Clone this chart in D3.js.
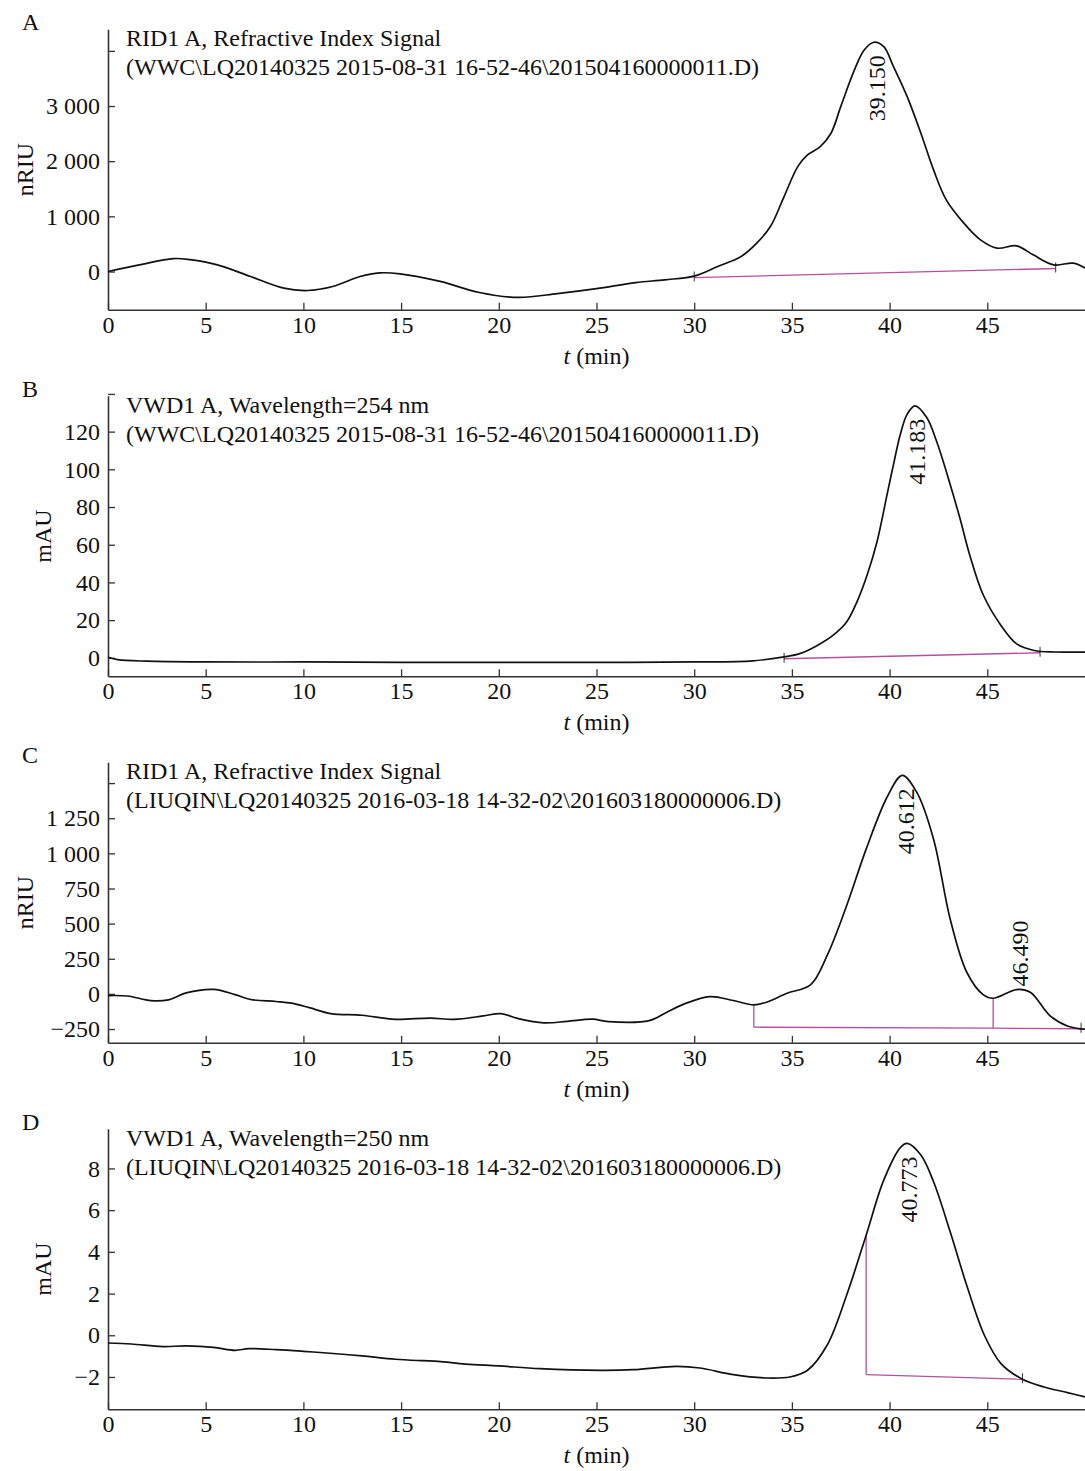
<!DOCTYPE html>
<html>
<head>
<meta charset="utf-8">
<script src="https://cdn.jsdelivr.net/npm/d3@7"></script>
<style>
  body { margin: 0; background: #fff; }
  svg { display: block; font-family: "Liberation Serif", "Times New Roman", serif; }
</style>
</head>
<body>
<div id="chart"></div>
<script>
const width = 1085;
const height = 1471;

// panel A: RID, 2015 run
const aTime = [0, 1.6, 3.35, 4.2, 5.6, 7.3, 9.0, 10.2, 11.5, 12.9, 13.9, 14.95, 17, 19, 21, 23, 25, 27, 28.5, 30.05, 31.2, 32.4, 33.2, 33.9, 34.6, 35.3, 35.8, 36.45, 37.0, 37.5, 38.2, 38.7, 39.2, 39.7, 40.2, 40.9, 41.6, 42.25, 42.9, 43.8, 44.65, 45.5, 46.5, 47.35, 48.4, 49.4, 50];
const aSignal = [0, 121, 235, 215, 121, -91, -302, -344, -272, -91, -25, -42, -180, -380, -470, -400, -310, -200, -150, -78, 91, 272, 514, 815, 1359, 1902, 2114, 2264, 2507, 2989, 3654, 4016, 4156, 4076, 3714, 3170, 2507, 1842, 1299, 877, 574, 424, 466, 302, 121, 152, 62];
const aBaseTime = [30, 48.5];
const aBaseValue = [-110, 55];
const aPeaks = ['39.150'];

// panel B: VWD 254 nm, 2015 run
const bTime = [0, 0.5, 2, 5, 10, 15, 20, 25, 30, 33, 34.6, 35.4, 36.3, 37.1, 37.8, 38.33, 38.85, 39.36, 39.87, 40.2, 40.55, 40.9, 41.3, 41.9, 42.4, 43.1, 43.6, 44.1, 44.8, 45.7, 46.5, 47.4, 48.5, 50];
const bSignal = [0.3, -1, -1.8, -2.2, -2.2, -2.4, -2.4, -2.4, -2.2, -1.6, 0.5, 2.2, 6.6, 11.9, 19, 29.7, 43.9, 61.7, 86.6, 102.6, 118.6, 129.3, 133.7, 127.5, 115, 92, 74, 54.6, 33.2, 17.2, 7.4, 3.9, 3.1, 3];
const bBaseTime = [34.6, 47.7];
const bBaseValue = [-0.5, 2.7];
const bPeaks = ['41.183'];

// panel C: RID, 2016 run
const cTime = [0, 1, 2.2, 3.1, 4.0, 5.4, 6.5, 7.3, 8.6, 9.4, 10.3, 11.4, 13, 14.7, 16.5, 17.7, 19.2, 20.1, 21, 22.3, 23.5, 24.8, 25.6, 27.7, 28.6, 29.5, 30.8, 32.0, 33.05, 33.7, 34.75, 35.95, 36.8, 37.8, 38.8, 39.9, 40.65, 41.4, 42.25, 43.1, 43.95, 44.8, 45.3, 46.5, 47.2, 48.2, 49.1, 49.8, 50];
const cSignal = [-12, -15, -48, -42, 7, 32, -5, -40, -54, -66, -98, -140, -152, -181, -172, -181, -157, -140, -176, -206, -195, -180, -197, -190, -130, -71, -19, -47, -78, -59, 5, 64, 272, 627, 1030, 1408, 1555, 1432, 1101, 533, 154, -7, -31, 31, 12, -154, -229, -249, -250];
const cBaseTime = [33.05, 45.3, 49.8];
const cBaseValue = [-237, -244, -248];
const cPeaks = ['40.612', '46.490'];

// panel D: VWD 250 nm, 2016 run
const dTime = [0, 1.2, 2.8, 4.0, 5.4, 6.5, 7.2, 8.6, 10, 11.2, 13, 14.7, 16.1, 16.9, 18.3, 20, 22.1, 25.2, 26.9, 29.1, 30.3, 32.0, 33.7, 34.9, 35.8, 36.8, 37.8, 38.8, 39.7, 40.55, 40.9, 41.6, 42.25, 43.1, 44.0, 44.85, 45.7, 46.8, 47.9, 49.1, 50];
const dSignal = [-0.37, -0.42, -0.54, -0.51, -0.58, -0.72, -0.64, -0.69, -0.77, -0.85, -0.99, -1.15, -1.22, -1.25, -1.38, -1.47, -1.6, -1.68, -1.65, -1.49, -1.57, -1.89, -2.05, -2.0, -1.68, -0.48, 1.92, 4.8, 7.44, 9.0, 9.2, 8.64, 7.36, 4.96, 2.24, 0, -1.36, -2.11, -2.48, -2.75, -2.96];
const dBaseTime = [38.8, 46.8];
const dBaseValue = [-1.89, -2.11];
const dPeaks = ['40.773'];

const xTicks = [0, 5, 10, 15, 20, 25, 30, 35, 40, 45];

const sep = n => d3.format(',')(n).replace(/,/g, ' ');

const panels = [
  {
    letter: 'A', unit: 'nRIU',
    title: ['RID1 A, Refractive Index Signal', '(WWC\\LQ20140325 2015-08-31 16-52-46\\201504160000011.D)'],
    time: aTime, signal: aSignal, baseTime: aBaseTime, baseValue: aBaseValue, peaks: aPeaks,
    domain: [-694, 4391], ticks: [0, 1000, 2000, 3000, 4000], hidden: 4000,
    drops: [false, false], endTicks: [true, true], labelPos: ['in'], unitX: 33
  },
  {
    letter: 'B', unit: 'mAU',
    title: ['VWD1 A, Wavelength=254 nm', '(WWC\\LQ20140325 2015-08-31 16-52-46\\201504160000011.D)'],
    time: bTime, signal: bSignal, baseTime: bBaseTime, baseValue: bBaseValue, peaks: bPeaks,
    domain: [-9.8, 139], ticks: [0, 20, 40, 60, 80, 100, 120, 140], hidden: 140,
    drops: [false, false], endTicks: [true, true], labelPos: ['in'], unitX: 51
  },
  {
    letter: 'C', unit: 'nRIU',
    title: ['RID1 A, Refractive Index Signal', '(LIUQIN\\LQ20140325 2016-03-18 14-32-02\\201603180000006.D)'],
    time: cTime, signal: cSignal, baseTime: cBaseTime, baseValue: cBaseValue, peaks: cPeaks,
    domain: [-348, 1648], ticks: [-250, 0, 250, 500, 750, 1000, 1250, 1500], hidden: 1500,
    drops: [true, true, false], endTicks: [false, false, true], labelPos: ['in', 'above'], unitX: 33
  },
  {
    letter: 'D', unit: 'mAU',
    title: ['VWD1 A, Wavelength=250 nm', '(LIUQIN\\LQ20140325 2016-03-18 14-32-02\\201603180000006.D)'],
    time: dTime, signal: dSignal, baseTime: dBaseTime, baseValue: dBaseValue, peaks: dPeaks,
    domain: [-3.55, 9.9], ticks: [-2, 0, 2, 4, 6, 8], hidden: null,
    drops: [true, false], endTicks: [false, true], labelPos: ['in'], unitX: 51
  }
];

const left = 108, right = 1085;
const firstTop = 29.3, step = 366.5, plotH = 280.5;
const fontSize = 24;

const svg = d3.select('#chart').append('svg')
  .attr('width', width)
  .attr('height', height);

const x = d3.scaleLinear().domain([0, 50]).range([left, right]);

const valueAt = (p, t) => {
  const i = Math.max(1, d3.bisectLeft(p.time, t));
  const t0 = p.time[i - 1], t1 = p.time[i];
  const k = (t - t0) / (t1 - t0);
  return p.signal[i - 1] + k * (p.signal[i] - p.signal[i - 1]);
};

panels.forEach((p, idx) => {
  const top = firstTop + idx * step;
  const bottom = top + plotH;
  const y = d3.scaleLinear().domain(p.domain).range([bottom, top]);
  const g = svg.append('g');

  // axes
  const yAxis = d3.axisLeft(y)
    .tickValues(p.ticks)
    .tickSizeInner(-7).tickSizeOuter(0).tickPadding(8)
    .tickFormat(d => d === p.hidden ? '' : (d < 0 ? '\u2212' + sep(-d) : sep(d)));
  const xAxis = d3.axisBottom(x)
    .tickValues(xTicks)
    .tickSizeInner(-7).tickSizeOuter(0).tickPadding(6)
    .tickFormat(d3.format('d'));

  const ya = g.append('g').attr('transform', `translate(${left},0)`).call(yAxis);
  const xa = g.append('g').attr('transform', `translate(0,${bottom})`).call(xAxis);
  g.selectAll('.domain').attr('stroke', '#333').attr('stroke-width', 1.6);
  g.selectAll('.tick line').attr('stroke', '#333').attr('stroke-width', 1.3);
  g.selectAll('.tick text')
    .attr('fill', '#111')
    .style('font-family', '"Liberation Serif", serif')
    .style('font-size', fontSize + 'px');
  xa.selectAll('.tick text').attr('dy', '0.71em');

  // axis titles
  g.append('text')
    .attr('transform', `translate(${p.unitX},${(top + bottom) / 2}) rotate(-90)`)
    .attr('text-anchor', 'middle')
    .style('font-size', fontSize + 'px')
    .attr('fill', '#111')
    .text(p.unit);

  const xl = g.append('text')
    .attr('x', (left + right) / 2)
    .attr('y', bottom + 54)
    .attr('text-anchor', 'middle')
    .style('font-size', fontSize + 'px')
    .attr('fill', '#111');
  xl.append('tspan').style('font-style', 'italic').text('t');
  xl.append('tspan').text(' (min)');

  g.append('text')
    .attr('x', 22).attr('y', top + 1)
    .style('font-size', fontSize + 'px')
    .attr('fill', '#111')
    .text(p.letter);

  g.selectAll('.ttl').data(p.title).join('text')
    .attr('class', 'ttl')
    .attr('x', 126)
    .attr('y', (d, i) => top + 16.7 + i * 29)
    .style('font-size', fontSize + 'px')
    .attr('fill', '#111')
    .text(d => d);

  // baseline
  const base = p.baseTime.map((t, i) => [t, p.baseValue[i]]);
  const pink = '#b64f9d';
  g.append('path')
    .datum(base)
    .attr('fill', 'none')
    .attr('stroke', pink)
    .attr('stroke-width', 1.3)
    .attr('d', d3.line().x(d => x(d[0])).y(d => y(d[1])));
  base.forEach((b, i) => {
    if (p.drops[i]) {
      g.append('line')
        .attr('x1', x(b[0])).attr('x2', x(b[0]))
        .attr('y1', y(b[1])).attr('y2', y(valueAt(p, b[0])))
        .attr('stroke', pink).attr('stroke-width', 1.3);
    }
    if (p.endTicks[i]) {
      g.append('line')
        .attr('x1', x(b[0])).attr('x2', x(b[0]))
        .attr('y1', y(b[1]) - 6).attr('y2', y(b[1]) + 4)
        .attr('stroke', '#333').attr('stroke-width', 1);
    }
  });

  // trace
  const pts = p.time.map((t, i) => [t, p.signal[i]]);
  g.append('path')
    .datum(pts)
    .attr('fill', 'none')
    .attr('stroke', '#111')
    .attr('stroke-width', 1.7)
    .attr('d', d3.line().curve(d3.curveCatmullRom.alpha(0.5)).x(d => x(d[0])).y(d => y(d[1])));

  // retention time labels
  p.peaks.forEach((lab, i) => {
    const t = +lab;
    const near = pts.filter(d => Math.abs(d[0] - t) < 1);
    const apex = y(d3.max(near, d => d[1]));
    const inside = p.labelPos[i] === 'in';
    g.append('text')
      .attr('transform', `translate(${x(t) + 12},${inside ? apex + 13 : apex - 3}) rotate(-90)`)
      .attr('text-anchor', inside ? 'end' : 'start')
      .style('font-size', fontSize + 'px')
      .attr('fill', '#111')
      .text(lab);
  });
});
</script>
</body>
</html>
